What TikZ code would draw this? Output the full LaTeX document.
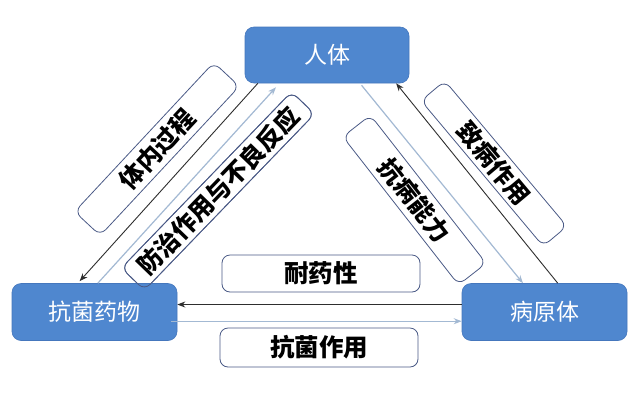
\documentclass[tikz,border=0pt]{standalone}
\usepackage{fontspec}
\newfontfamily\cjk{Noto Sans CJK SC}
\usetikzlibrary{arrows.meta,calc}
\definecolor{boxblue}{HTML}{4F87CF}
\definecolor{boxborder}{HTML}{4577BD}
\definecolor{lblborder}{HTML}{4A5A86}
\definecolor{darkline}{HTML}{2E2E2E}
\definecolor{lightline}{HTML}{A3B9D3}
\begin{document}
\begin{tikzpicture}[x=1pt,y=-1pt,
 bluebox/.style={draw=boxborder, fill=boxblue, rounded corners=9pt, minimum width=164pt, minimum height=56pt, text=white, font=\cjk\fontsize{23}{27}\selectfont, inner sep=0pt, line width=0.6pt},
 labelbox/.style={draw=lblborder, fill=white, rounded corners=8pt, font=\cjk\bfseries\fontsize{24.5}{28}\selectfont, inner sep=0pt, line width=0.8pt},
 outlinebox/.style={draw=lblborder, rounded corners=8pt, inner sep=0pt, line width=0.8pt},
 darkarrow/.style={draw=darkline, line width=0.9pt, -{Stealth[length=8pt,width=6pt]}},
 lightarrow/.style={draw=lightline, line width=1.2pt, -{Stealth[length=8pt,width=6pt]}}]
\useasboundingbox (0,0) rectangle (640,400);
\fill[white] (0,0) rectangle (640,400);
% label boxes (filled)
\node[labelbox, minimum width=198pt, minimum height=37pt] (nyx) at (321,273.5) {耐药性};
\node[labelbox, minimum width=198pt, minimum height=39pt] (kjzy) at (319,347.5) {抗菌作用};
\node[labelbox, minimum width=204pt, minimum height=35pt, rotate=47] (tngc) at (157,149) {体内过程};
\node[labelbox, minimum width=245pt, minimum height=32pt, rotate=46] (fz) at (218,191) {防治作用与不良反应};
\node[labelbox, minimum width=188pt, minimum height=35pt, rotate=-52] (kbnl) at (414.5,200) {抗病能力};
\node[labelbox, minimum width=190pt, minimum height=31pt, rotate=-50] (zbzy) at (494,163.5) {致病作用};
% main boxes
\node[bluebox] (rt) at (327,55) {人体};
\node[bluebox, minimum width=165pt, minimum height=57pt] (yw) at (94.5,312) {抗菌药物};
\node[bluebox, minimum width=165pt, minimum height=57pt] (byt) at (544.5,312) {病原体};
% outline of the label box overlapping the drug box
\node[outlinebox, minimum width=245pt, minimum height=32pt, rotate=46] (fzo) at (fz.center) {};
% anchor points
\coordinate (rtA) at ($(rt.south west)!0.08!(rt.south east)$);
\coordinate (rtB) at ($(rt.south west)!0.19!(rt.south east)+(0,4)$);
\coordinate (rtC) at ($(rt.south west)!0.71!(rt.south east)+(0,2)$);
\coordinate (rtD) at ($(rt.south west)!0.92!(rt.south east)$);
\coordinate (ywA) at ($(yw.north west)!0.41!(yw.north east)+(0,-2)$);
\coordinate (ywB) at ($(yw.north west)!0.52!(yw.north east)$);
\coordinate (ywE1) at ($(yw.north east)!0.37!(yw.south east)$);
\coordinate (ywE2) at ($(yw.north east)!0.66!(yw.south east)+(-6,0)$);
\coordinate (bytA) at ($(byt.north west)!0.37!(byt.north east)$);
\coordinate (bytB) at ($(byt.north west)!0.58!(byt.north east)$);
\coordinate (bytW1) at ($(byt.north west)!0.37!(byt.south west)$);
\coordinate (bytW2) at ($(byt.north west)!0.66!(byt.south west)$);
% connectors
\draw[darkarrow] (rtA) -- (ywA);
\draw[lightarrow] (ywB) -- (rtB);
\draw[lightarrow] (rtC) -- (bytA);
\draw[darkarrow] (bytB) -- (rtD);
\draw[darkarrow] (bytW1) -- (ywE1);
\draw[lightarrow] (ywE2) -- (bytW2);
\end{tikzpicture}
\end{document}
